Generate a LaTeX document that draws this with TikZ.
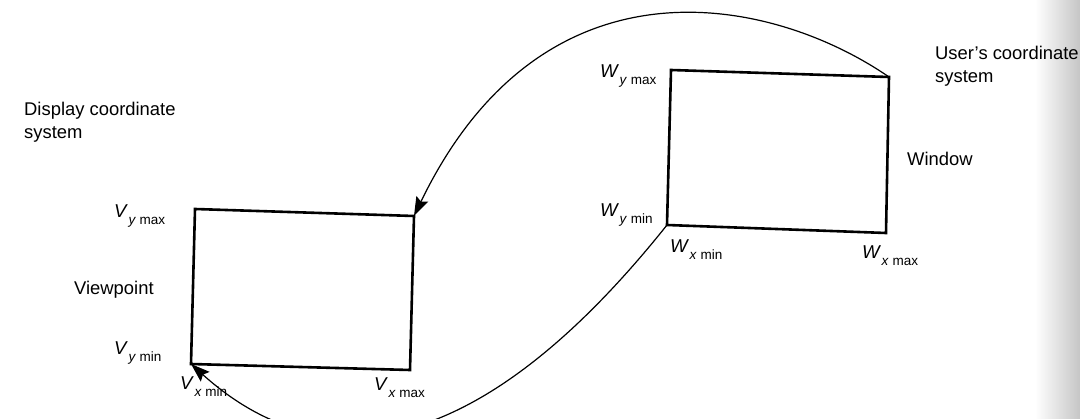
\documentclass[tikz,border=0pt]{standalone}
\usepackage{fontspec}
\setmainfont{Liberation Sans}
\usetikzlibrary{arrows.meta}

% coordinate label: italic letter with an "x min"-style subscript
\newcommand{\coordlbl}[3]{\textit{#1}\kern0.5pt\raisebox{-7pt}{\fontsize{13.5}{14}\selectfont\textit{#2} #3}}

\tikzset{
  boxline/.style={line width=2.6pt, line join=miter},
  maparc/.style={line width=1.2pt, -{Stealth[length=19pt,width=13pt,inset=3pt]}},
  lbl/.style={anchor=base west, inner sep=0pt, font=\fontsize{18.6}{22}\selectfont},
  captext/.style={anchor=base west, inner sep=0pt, font=\fontsize{18.4}{23}\selectfont, align=left}
}

\begin{document}
\begin{tikzpicture}[x=1pt,y=-1pt]
\useasboundingbox (0,0) rectangle (1080,419);

% darkened page edge at the right
\shade[left color=white, right color=gray!45] (1035,0) rectangle (1080,419);

% window corners (user's coordinates)
\coordinate (wtl) at (671,70);
\coordinate (wtr) at (889,77);
\coordinate (wbr) at (886,233);
\coordinate (wbl) at (667,225);
% viewport corners (display coordinates)
\coordinate (vtl) at (195,209);
\coordinate (vtr) at (414,216);
\coordinate (vbr) at (410,370);
\coordinate (vbl) at (191,364);

\draw[boxline] (wtl) -- (wtr) -- (wbr) -- (wbl) -- cycle;
\draw[boxline] (vtl) -- (vtr) -- (vbr) -- (vbl) -- cycle;

% mapping arcs from window corners to viewport corners
\draw[maparc] (wtr) .. controls (773,-3) and (544,-53) .. (vtr);
\draw[maparc] (wbl) .. controls (502,432) and (340,498) .. (vbl);

% window labels
\node[lbl] (wymax) at (600,78)  {\coordlbl{W}{y}{max}};
\node[lbl] (wymin) at (600,217) {\coordlbl{W}{y}{min}};
\node[lbl] (wxmin) at (670,253) {\coordlbl{W}{x}{min}};
\node[lbl] (wxmax) at (862,259) {\coordlbl{W}{x}{max}};

% viewport labels
\node[lbl] (vymax) at (114,218) {\coordlbl{V}{y}{max}};
\node[lbl] (vymin) at (114,355) {\coordlbl{V}{y}{min}};
\node[lbl] (vxmin) at (180,390) {\coordlbl{V}{x}{min}};
\node[lbl] (vxmax) at (374,391) {\coordlbl{V}{x}{max}};

% captions
\node[captext] (usercs) at (935,83) {User's coordinate\\system};
\node[captext] (window) at (907,166) {Window};
\node[captext] (dispcs) at (24,139) {Display coordinate\\system};
\node[captext] (viewpt) at (74,295) {Viewpoint};
\end{tikzpicture}
\end{document}
